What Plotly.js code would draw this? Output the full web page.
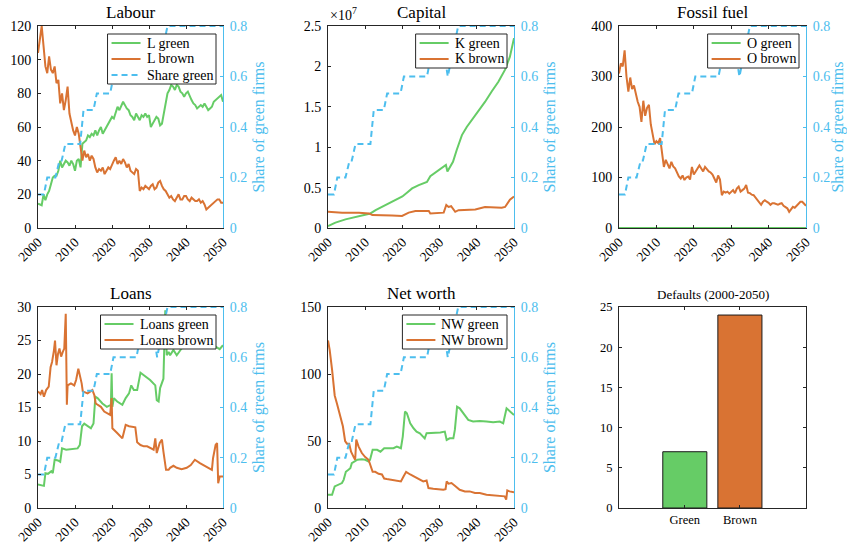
<!DOCTYPE html>
<html>
<head>
<meta charset="utf-8">
<script src="https://cdn.plot.ly/plotly-3.0.1.min.js"></script>
<style>
  html, body { margin: 0; padding: 0; background: #ffffff; }
  #chart { width: 847px; height: 544px; }
</style>
</head>
<body>
<div id="chart"></div>
<script>
// ---------- data ----------
// Half-yearly grid 2000..2050 used by the labour and fossil-fuel series
const halfYears = [];
for (let k = 0; k <= 100; k++) halfYears.push(2000 + k * 0.5);

// Share of green firms (right-hand axis in every line panel)
const shareYears = [2000, 2001.6, 2002.5, 2004.7, 2005.8, 2006.4, 2007.4, 2011.4, 2012.3, 2015.0,
                    2015.9, 2019.5, 2020.4, 2026.6, 2027.5, 2031.5, 2032.2, 2033.2, 2034.2, 2035.0, 2050];
const shareGreen = [0.133, 0.133, 0.2, 0.2, 0.267, 0.267, 0.333, 0.333, 0.467, 0.467,
                    0.533, 0.533, 0.6, 0.6, 0.667, 0.667, 0.6, 0.667, 0.733, 0.8, 0.8];

// Labour
const labourGreen = [
  14.5, 14, 13.5, 20, 16.5, 20, 22, 26, 30, 31, 31, 34, 40, 36, 38, 40, 39, 37, 40, 38,
  34, 40, 41, 36, 50, 51, 52, 55, 54, 56, 55, 58, 55, 58, 60, 56, 58, 60, 62, 64,
  66, 65, 68, 72, 70, 73, 75, 73, 71, 70, 67, 66, 64, 68, 66, 64, 67, 66, 68, 66,
  67, 60, 62, 64, 66, 65, 61, 62, 68, 72, 80, 82, 85, 84, 82, 85, 84, 81, 80, 78,
  80, 81, 78, 76, 74, 73, 71, 72, 73, 72, 74, 72, 70, 71, 72, 75, 76, 77, 78, 79, 75];
const labourBrown = [
  104, 112, 120, 108, 96, 92, 102, 94, 92, 96, 86, 88, 74, 80, 70, 76, 84, 68, 62, 58,
  55, 60, 56, 48, 40, 46, 42, 44, 40, 43, 41, 36, 33, 35, 34, 36, 32, 34, 36, 35,
  38, 40, 42, 38, 40, 38, 41, 39, 36, 38, 34, 33, 32, 35, 34, 22, 24, 23, 25, 24,
  23, 25, 26, 23, 24, 27, 28, 25, 23, 22, 20, 18, 19, 17, 16, 18, 20, 17, 17, 19,
  19, 17, 16, 18, 17, 16, 16, 17, 15, 16, 14, 11, 12, 13, 14, 15, 16, 17, 17, 15, 15];

// Capital (units of 10^7)
const capGreenYears = [2000, 2002, 2004.7, 2007.4, 2010, 2011.4, 2012.8, 2015.4, 2018.1, 2020,
                       2021.3, 2022.6, 2024.4, 2026.6, 2027.5, 2029.3, 2031.1, 2031.7, 2032.1, 2032.9,
                       2033.6, 2034.6, 2036, 2037.3, 2038.7, 2040.4, 2042.2, 2044, 2045.8, 2047.6,
                       2048.9, 2050];
const capitalGreen = [0.025, 0.066, 0.107, 0.14, 0.17, 0.18, 0.22, 0.28, 0.35, 0.39,
                      0.44, 0.49, 0.53, 0.57, 0.64, 0.70, 0.76, 0.78, 0.70, 0.76,
                      0.82, 0.965, 1.15, 1.25, 1.34, 1.44, 1.56, 1.69, 1.81, 1.96,
                      2.12, 2.35];
const capBrownYears = [2000, 2003.8, 2008.3, 2011, 2011.9, 2015.4, 2017.2, 2019.9, 2021.7, 2023.5,
                       2027.1, 2027.5, 2031.1, 2031.8, 2032.4, 2033.1, 2034.2, 2035.1, 2039.6, 2042.2,
                       2046.7, 2047.6, 2048.9, 2050];
const capitalBrown = [0.20, 0.19, 0.19, 0.18, 0.16, 0.16, 0.155, 0.15, 0.19, 0.21,
                      0.21, 0.18, 0.19, 0.285, 0.26, 0.27, 0.20, 0.22, 0.23, 0.26,
                      0.25, 0.26, 0.35, 0.39];

// Fossil fuel
const fossilGreenYears = [2000, 2050];
const fossilGreen = [0, 0];
const fossilBrown = [
  306, 326, 320, 352, 300, 270, 298, 275, 282, 262, 250, 240, 210, 252, 222, 238, 244, 205, 184, 166,
  172, 168, 178, 154, 121, 135, 126, 118, 131, 122, 118, 110, 102, 98, 104, 95, 100, 102, 96, 121,
  106, 112, 118, 124, 118, 112, 121, 116, 112, 110, 106, 98, 90, 104, 96, 65, 72, 70, 72, 68,
  72, 75, 69, 78, 82, 72, 75, 78, 85, 70, 69, 66, 65, 60, 55, 50, 46, 52, 55, 52,
  50, 46, 49, 49, 47, 46, 48, 49, 44, 42, 39, 32, 36, 42, 40, 44, 50, 52, 52, 48, 44];

// Loans
const loansGreenYears = [2000, 2001.6, 2002, 2002.7, 2003.6, 2004, 2004.5, 2005.4, 2006, 2006.5,
                         2007.6, 2009, 2010.7, 2011.3, 2011.9, 2012.5, 2013.6, 2014.3, 2015, 2015.5,
                         2016.1, 2017.4, 2018.6, 2019.2, 2019.7, 2019.9, 2020.1, 2020.5, 2021.4, 2022.8,
                         2023.7, 2024.6, 2025.2, 2025.9, 2026.8, 2027.7, 2028.6, 2030.3, 2031.7, 2032.1,
                         2032.6, 2033, 2033.9, 2034.4, 2034.8, 2035.3, 2035.7, 2036.6, 2037.5, 2038.4,
                         2038.8, 2040, 2042, 2044, 2046, 2048.2, 2049.1, 2050];
const loansGreen = [3.5, 3.3, 5.2, 5.1, 5.5, 5.2, 7.2, 7.1, 6.9, 8.9,
                    8.7, 8.8, 8.9, 9.4, 12.2, 12.6, 12.2, 11.9, 12.6, 16.6,
                    16.4, 15.6, 15.1, 15.2, 15.4, 20.1, 15.1, 16.4, 15.9, 15.4,
                    16.4, 17.1, 18.3, 17.6, 17.6, 20.2, 19.8, 19.1, 18.3, 16.1,
                    15.9, 17.9, 19.3, 29.5, 22.8, 23.3, 22.8, 23.6, 22.8, 23.6,
                    23.8, 24.5, 25, 24.6, 25, 24, 23.7, 24.3];
const loansBrownYears = [2000, 2000.7, 2001.1, 2001.6, 2002.2, 2002.9, 2003.4, 2003.8, 2004.3, 2004.6,
                         2005, 2005.4, 2005.8, 2006.25, 2006.7, 2007.1, 2007.5, 2007.8, 2008, 2008.9,
                         2009.8, 2010.3, 2010.9, 2011.3, 2011.8, 2012.1, 2013.4, 2014.7, 2015.2, 2015.6,
                         2017, 2017.9, 2018.75, 2019.5, 2019.9, 2020.1, 2021.4, 2022.8, 2023.7, 2024.6,
                         2026.3, 2026.8, 2027.7, 2028.6, 2029.5, 2030.4, 2031.25, 2031.7, 2032.1, 2032.9,
                         2033.5, 2033.9, 2034.6, 2035.3, 2035.7, 2036.6, 2037.5, 2038.8, 2040.2, 2041.3,
                         2042.4, 2043.75, 2045.5, 2047, 2047.3, 2048, 2048.4, 2048.7, 2049.1, 2050];
const loansBrown = [17.4, 17, 17.6, 16.6, 17.6, 18.1, 21, 21.8, 23.5, 25,
                    21.3, 23, 23.8, 22.6, 23.3, 23.8, 29, 15.4, 18.3, 18.6,
                    18.3, 19.1, 20.8, 20, 18.6, 17.4, 17.1, 17.6, 16.9, 15.6,
                    15.1, 14.4, 14.1, 13.9, 16.4, 11.9, 11.2, 10.4, 12.4, 12.2,
                    12.05, 9.8, 9.4, 9.2, 9.2, 8.9, 8.7, 10.4, 8.2, 9.7,
                    10.2, 8.4, 5.7, 5.7, 6, 6.3, 6, 5.8, 6, 6.4,
                    7.2, 6.7, 6.2, 5.7, 7.4, 9.4, 9.7, 3.7, 4.7, 4.7];

// Net worth
const nwGreenYears = [2000, 2001.1, 2001.8, 2002.9, 2003.75, 2004.2, 2004.8, 2005.5, 2006, 2006.4,
                      2007, 2007.9, 2009.1, 2010, 2010.9, 2011.3, 2012, 2013.2, 2014.1, 2015.1,
                      2016.3, 2017.6, 2018.5, 2019.6, 2020.1, 2020.7, 2021.2, 2022.1, 2023, 2023.8,
                      2024.7, 2026, 2026.5, 2027.9, 2029.3, 2030.2, 2031.4, 2031.9, 2032.7, 2033.7,
                      2034.1, 2034.7, 2035.4, 2036.3, 2037.7, 2039, 2040.8, 2042.6, 2044.4, 2046.2,
                      2047.1, 2048, 2048.9, 2050];
const nwGreen = [9.9, 9.9, 16.1, 17.4, 18.6, 21, 27, 28.5, 29.7, 33.5,
                 34.7, 36, 36.4, 36, 34.7, 36, 43.4, 43.4, 42, 44.6,
                 44.6, 44.6, 45.9, 44.6, 53.3, 72, 70.7, 63.2, 59.5, 57,
                 55.8, 52, 55.8, 55.8, 55.8, 56.3, 57, 50.8, 52, 52,
                 58.3, 75.6, 74.4, 70.7, 65.7, 64.5, 65, 64.5, 64, 64.5,
                 63.2, 74.4, 72, 69.4];
const nwBrownYears = [2000, 2000.45, 2001.1, 2001.8, 2002.4, 2003.3, 2004, 2004.6, 2005.1, 2005.7,
                      2006.2, 2006.9, 2007.3, 2007.6, 2008.2, 2009.1, 2010, 2010.9, 2011.6, 2012,
                      2012.7, 2013.6, 2014.5, 2015.1, 2015.8, 2017.1, 2018.5, 2019.6, 2020.3, 2021,
                      2022.1, 2023, 2023.9, 2024.7, 2025.6, 2026.5, 2027, 2028.3, 2029.6, 2031,
                      2031.6, 2031.9, 2032.4, 2033.2, 2034.1, 2035.4, 2036.8, 2038.1, 2039.5, 2040.8,
                      2042.6, 2044.4, 2046.2, 2047.5, 2047.9, 2048.2, 2048.8, 2050];
const nwBrown = [125, 118, 103, 84, 78, 68, 61, 50, 48, 48,
                 42, 38, 36, 51, 46, 41, 38, 36, 31, 27,
                 27, 25.5, 25, 22, 21.6, 21, 20.3, 19.8, 23.5, 27,
                 25, 23.5, 22.3, 21, 19.8, 20.5, 14.9, 14.4, 14.1, 13.6,
                 14.1, 19.8, 18.1, 18.6, 16.6, 13.6, 12.4, 12.4, 11.2, 11.2,
                 9.9, 9.4, 8.7, 8.7, 6.2, 13.1, 12.4, 11.7];

// Defaults over the whole period
const defaultCategories = ['Green', 'Brown'];
const defaultCounts = [7, 24];

// ---------- styling ----------
const FONT = "'Liberation Serif', serif";
const GREEN = '#66cc66';
const BROWN = '#d97333';
const BLUE = '#4dbeee';
const AXIS = '#262626';
const W = 847, H = 544;
const LEG_FONT = 14;

const cols = [[38, 223], [328, 514], [619, 806]];
const rows = [[26, 228], [307, 508]];
const xDom = c => [cols[c][0] / W, cols[c][1] / W];
const yDom = r => [1 - rows[r][1] / H, 1 - rows[r][0] / H];
const px = x => x / W;
const py = y => 1 - y / H;

// text width helper for sizing the legend boxes
const measureCtx = document.createElement('canvas').getContext('2d');
measureCtx.font = LEG_FONT + "px 'Liberation Serif', serif";
const textWidth = s => measureCtx.measureText(s).width;

const panels = [
  { title: 'Labour', r: 0, c: 0, ymax: 120, dtick: 20,
    series: [
      { name: 'L green', x: halfYears, y: labourGreen, color: GREEN },
      { name: 'L brown', x: halfYears, y: labourBrown, color: BROWN }],
    shareInLegend: true },
  { title: 'Capital', r: 0, c: 1, ymax: 2.5, dtick: 0.5,
    series: [
      { name: 'K green', x: capGreenYears, y: capitalGreen, color: GREEN },
      { name: 'K brown', x: capBrownYears, y: capitalBrown, color: BROWN }] },
  { title: 'Fossil fuel', r: 0, c: 2, ymax: 400, dtick: 100,
    series: [
      { name: 'O green', x: fossilGreenYears, y: fossilGreen, color: GREEN },
      { name: 'O brown', x: halfYears, y: fossilBrown, color: BROWN }] },
  { title: 'Loans', r: 1, c: 0, ymax: 30, dtick: 5,
    series: [
      { name: 'Loans green', x: loansGreenYears, y: loansGreen, color: GREEN },
      { name: 'Loans brown', x: loansBrownYears, y: loansBrown, color: BROWN }] },
  { title: 'Net worth', r: 1, c: 1, ymax: 150, dtick: 50,
    series: [
      { name: 'NW green', x: nwGreenYears, y: nwGreen, color: GREEN },
      { name: 'NW brown', x: nwBrownYears, y: nwBrown, color: BROWN }] }
];

const traces = [];
const layout = {
  width: W, height: H,
  margin: { l: 0, r: 0, t: 0, b: 0 },
  paper_bgcolor: '#ffffff', plot_bgcolor: 'rgba(0,0,0,0)',
  font: { family: FONT, size: 13, color: AXIS },
  showlegend: false,
  annotations: [],
  shapes: []
};

const yearTicks = [2000, 2010, 2020, 2030, 2040, 2050];

// boxed legend in the upper right corner of a panel
function addLegend(p, entries) {
  const right = cols[p.c][1] - 7;
  const top = rows[p.r][0] + 8;
  const tw = Math.max(...entries.map(e => textWidth(e.name)));
  const left = right - (4 + 29 + 4 + tw + 5);
  const bottom = top + entries.length * 16 + 2;
  layout.shapes.push({
    type: 'rect', xref: 'paper', yref: 'paper', layer: 'above',
    x0: px(left), x1: px(right), y0: py(bottom), y1: py(top),
    fillcolor: '#ffffff', line: { color: AXIS, width: 1 }
  });
  entries.forEach((e, k) => {
    const cy = top + 9 + k * 16;
    layout.shapes.push({
      type: 'line', xref: 'paper', yref: 'paper', layer: 'above',
      x0: px(left + 4), x1: px(left + 33), y0: py(cy), y1: py(cy),
      line: { color: e.color, width: 2, dash: e.dash || 'solid' }
    });
    layout.annotations.push({
      text: e.name, xref: 'paper', yref: 'paper',
      x: px(left + 37), y: py(cy), xanchor: 'left', yanchor: 'middle',
      showarrow: false, font: { family: FONT, size: LEG_FONT, color: '#000000' }
    });
  });
}

panels.forEach((p, i) => {
  const n = i + 1;
  const xName = n === 1 ? 'x' : 'x' + n;
  const yName = n === 1 ? 'y' : 'y' + n;
  const yRight = 'y' + (n + 6);

  p.series.forEach(s => {
    traces.push({
      type: 'scatter', mode: 'lines', name: s.name, x: s.x, y: s.y,
      xaxis: xName, yaxis: yName,
      line: { color: s.color, width: 2 }, hoverinfo: 'skip'
    });
  });
  traces.push({
    type: 'scatter', mode: 'lines', name: 'Share green', x: shareYears, y: shareGreen,
    xaxis: xName, yaxis: yRight,
    line: { color: BLUE, width: 2, dash: '6px,4px' }, hoverinfo: 'skip'
  });

  layout[xName.replace('x', 'xaxis')] = {
    domain: xDom(p.c), anchor: yName, range: [2000, 2050],
    tickvals: yearTicks, tickangle: -45, ticks: 'inside', ticklen: 3, tickcolor: AXIS,
    showline: true, linecolor: AXIS, linewidth: 1, mirror: 'ticks',
    showgrid: false, zeroline: false, fixedrange: true,
    tickfont: { family: FONT, size: 13.5, color: '#000000' }
  };
  layout[yName.replace('y', 'yaxis')] = {
    domain: yDom(p.r), anchor: xName, range: [0, p.ymax], dtick: p.dtick, tick0: 0,
    ticks: 'inside', ticklen: 3, tickcolor: AXIS, ticklabelstandoff: 3,
    showline: true, linecolor: AXIS, linewidth: 1, mirror: false,
    showgrid: false, zeroline: false, fixedrange: true,
    tickfont: { family: FONT, size: 14, color: '#000000' }
  };
  layout['yaxis' + (n + 6)] = {
    overlaying: yName, anchor: xName, side: 'right', range: [0, 0.8], dtick: 0.2, tick0: 0,
    ticks: 'inside', ticklen: 3, tickcolor: BLUE, ticklabelstandoff: 3,
    showline: true, linecolor: BLUE, linewidth: 1,
    showgrid: false, zeroline: false, fixedrange: true,
    tickfont: { family: FONT, size: 14, color: BLUE },
    title: { text: 'Share of green firms', font: { family: FONT, size: 16, color: BLUE }, standoff: 6 }
  };

  const entries = p.series.map(s => ({ name: s.name, color: s.color }));
  if (p.shareInLegend) entries.push({ name: 'Share green', color: BLUE, dash: '6px,4px' });
  addLegend(p, entries);

  layout.annotations.push({
    text: p.title, xref: 'paper', yref: 'paper',
    x: (cols[p.c][0] + cols[p.c][1]) / 2 / W, y: py(rows[p.r][0]),
    xanchor: 'center', yanchor: 'bottom', yshift: 2, showarrow: false,
    font: { family: FONT, size: 17, color: '#000000' }
  });
});

// exponent label of the capital axis
layout.annotations.push({
  text: '×10<sup>7</sup>', xref: 'paper', yref: 'paper',
  x: px(cols[1][0]), y: py(rows[0][0]), xanchor: 'left', yanchor: 'bottom', yshift: 1,
  showarrow: false, font: { family: FONT, size: 14, color: '#000000' }
});

// Defaults bar panel
traces.push({
  type: 'bar', x: [1, 2], y: defaultCounts, xaxis: 'x6', yaxis: 'y6', width: 0.8,
  marker: { color: [GREEN, BROWN], line: { color: '#1a1a1a', width: 1 } },
  hoverinfo: 'skip'
});
layout.xaxis6 = {
  domain: xDom(2), anchor: 'y6', range: [-0.195, 3.2],
  tickvals: [1, 2], ticktext: defaultCategories,
  ticks: 'inside', ticklen: 3, tickcolor: AXIS, showline: true, linecolor: AXIS, linewidth: 1,
  mirror: 'ticks', showgrid: false, zeroline: false, fixedrange: true,
  tickfont: { family: FONT, size: 12.5, color: '#000000' }
};
layout.yaxis6 = {
  domain: yDom(1), anchor: 'x6', range: [0, 25], dtick: 5, tick0: 0,
  ticks: 'inside', ticklen: 3, tickcolor: AXIS, ticklabelstandoff: 3,
  showline: true, linecolor: AXIS, linewidth: 1, mirror: 'ticks',
  showgrid: false, zeroline: false, fixedrange: true,
  tickfont: { family: FONT, size: 12.5, color: '#000000' }
};
layout.annotations.push({
  text: 'Defaults (2000-2050)', xref: 'paper', yref: 'paper',
  x: (cols[2][0] + cols[2][1]) / 2 / W, y: py(rows[1][0]),
  xanchor: 'center', yanchor: 'bottom', yshift: 3, showarrow: false,
  font: { family: FONT, size: 13, color: '#000000' }
});

Plotly.newPlot('chart', traces, layout, { staticPlot: true, displayModeBar: false });
</script>
</body>
</html>
